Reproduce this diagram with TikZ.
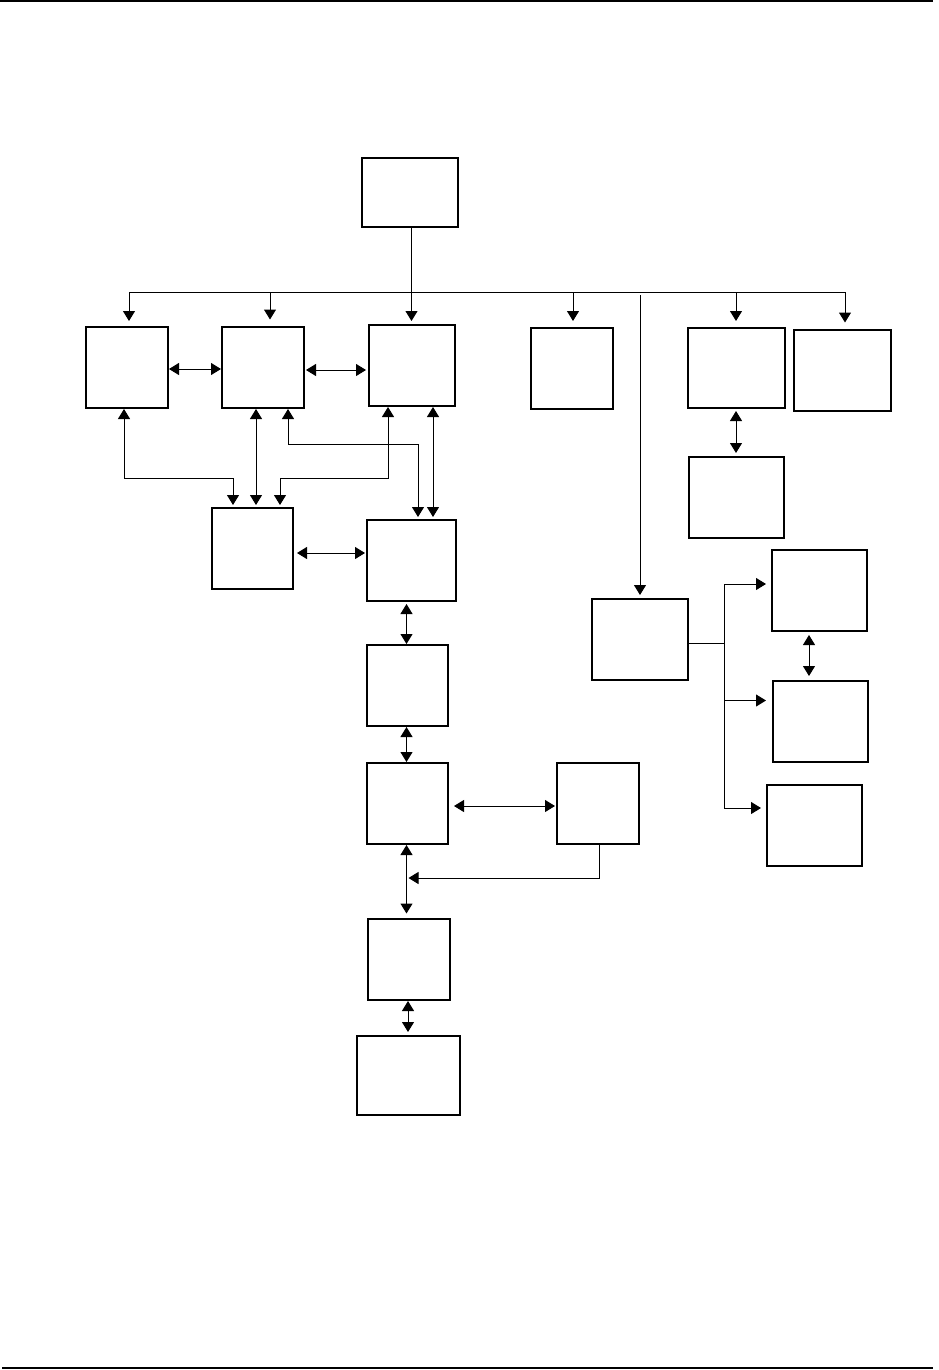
\documentclass[tikz,border=0pt]{standalone}
\usetikzlibrary{arrows.meta,fit}

\tikzset{
    blk/.style={draw, line width=2pt, inner sep=0pt},
    lnk/.style={line width=1pt},
    arr/.style={lnk, -{Triangle[width=12pt,length=10pt]}},
    dbl/.style={lnk, {Triangle[width=12pt,length=10pt]}-{Triangle[width=12pt,length=10pt]}},
}

\begin{document}
\begin{tikzpicture}[x=1pt, y=-1pt]
    \def\blk#1#2#3#4#5{%
        \node[blk, fit={(#2,#3) (#4,#5)}] (#1) {};
    }

    \useasboundingbox (0,0) rectangle (938,1370);

    % page rules
    \draw[line width=2.5pt] (0,1.2) -- (933,1.2);
    \draw[line width=1.2pt] (2,1368) -- (933,1368);

    \blk{top}{362}{158}{458}{227}

    \blk{a1}{86}{327}{168}{408}
    \blk{a2}{222}{327}{304}{408}
    \blk{a3}{369}{325}{455}{406}
    \blk{a4}{531}{328}{613}{409}
    \blk{a5}{688}{328}{785}{408}
    \blk{a6}{794}{330}{891}{411}
    \blk{a7}{689}{457}{784}{538}

    \blk{b1}{212}{508}{293}{589}
    \blk{b2}{367}{520}{456}{601}
    \blk{c1}{367}{645}{448}{726}
    \blk{d1}{367}{763}{448}{844}
    \blk{e1}{557}{763}{639}{844}
    \blk{f1}{368}{919}{450}{1000}
    \blk{g1}{357}{1036}{460}{1115}

    \blk{h1}{592}{599}{688}{680}
    \blk{i1}{772}{550}{867}{631}
    \blk{j1}{773}{681}{868}{762}
    \blk{k1}{767}{785}{862}{866}

    % distribution bus
    \coordinate (bus) at ([xshift=1.7pt]top.south |- 0,292);
    \draw[lnk] ([xshift=1.7pt]top.south) -- (bus);
    \draw[lnk] ([xshift=2pt]a1.north |- bus) -- ([xshift=2.5pt]a6.north |- bus);
    \foreach \n/\dx/\gap in {a1/2/5, a2/7/6.5, a3/-0.5/3, a4/1/6, a5/-0.5/6, a6/2.5/6.5}
        \draw[arr, shorten >=\gap pt] ([xshift=\dx pt]\n.north |- bus) -- ([xshift=\dx pt]\n.north);
    \draw[arr, shorten >=3pt] (h1.north |- 0,295) -- (h1.north);

    % first row
    \draw[dbl] ([yshift=-1.5pt]a1.east) -- ([yshift=-1.5pt]a1.east -| a2.west);
    \draw[dbl, shorten >=2pt] ([xshift=1pt,yshift=-2.5pt]a2.east) -- ([yshift=-2.5pt]a2.east -| a3.west);

    % first row to second row
    \draw[dbl, shorten >=2pt] ([xshift=-3pt]a1.south) -- ++(0,69) -| ([xshift=-19.5pt]b1.north);
    \draw[dbl, shorten >=2pt] ([xshift=-7pt]a2.south) -- ([xshift=-7pt]a2.south |- b1.north);
    \draw[dbl, shorten >=2pt] ([xshift=-24pt]a3.south) -- ++(0,71) -| ([xshift=27.5pt]b1.north);
    \draw[dbl, shorten >=2pt] ([xshift=25pt]a2.south) -- ++(0,35) -| ([xshift=6.5pt]b2.north);
    \draw[dbl, shorten >=2pt] ([xshift=21pt]a3.south) -- ([xshift=21pt]a3.south |- b2.north);
    \draw[dbl, shorten >=1pt] ([xshift=3pt,yshift=-4.5pt]b1.east) -- ([yshift=-4.5pt]b1.east -| b2.west);

    % main column
    \draw[dbl, shorten <=2pt] ([xshift=-5pt]b2.south) -- ([xshift=-5pt]b2.south |- c1.north);
    \draw[dbl] ([xshift=-1pt]c1.south) -- ([xshift=-1pt]c1.south |- d1.north);
    \draw[dbl, shorten >=1pt] ([xshift=5pt,yshift=-2.5pt]d1.east) -- ([yshift=-2.5pt]d1.east -| e1.west);
    \draw[dbl, shorten >=4.5pt] ([xshift=-1pt]d1.south) -- ([xshift=-1pt]d1.south |- f1.north);
    \draw[arr] ([xshift=1pt]e1.south) -- ++(0,33) coordinate (eb) -- ([xshift=1pt]d1.south |- eb);
    \draw[dbl, shorten >=3pt] ([xshift=-1pt]f1.south) -- ([xshift=-1pt]f1.south |- g1.north);

    % right side
    \draw[dbl, shorten <=2pt, shorten >=3pt] ([xshift=-0.5pt]a5.south) -- ([xshift=-0.5pt]a5.south |- a7.north);
    \draw[lnk] ([yshift=-3.5pt]h1.east) -- ++(35,0) coordinate (fork);
    \draw[arr, shorten >=5pt] (fork) |- ([yshift=6.5pt]i1.west);
    \draw[arr, shorten >=6pt] (fork) |- ([yshift=21pt]j1.west);
    \draw[arr, shorten >=5pt] (fork) |- ([yshift=17.5pt]k1.west);
    \draw[dbl, shorten <=3pt, shorten >=4pt] ([xshift=-10.5pt]i1.south) -- ([xshift=-10.5pt]i1.south |- j1.north);
\end{tikzpicture}
\end{document}
